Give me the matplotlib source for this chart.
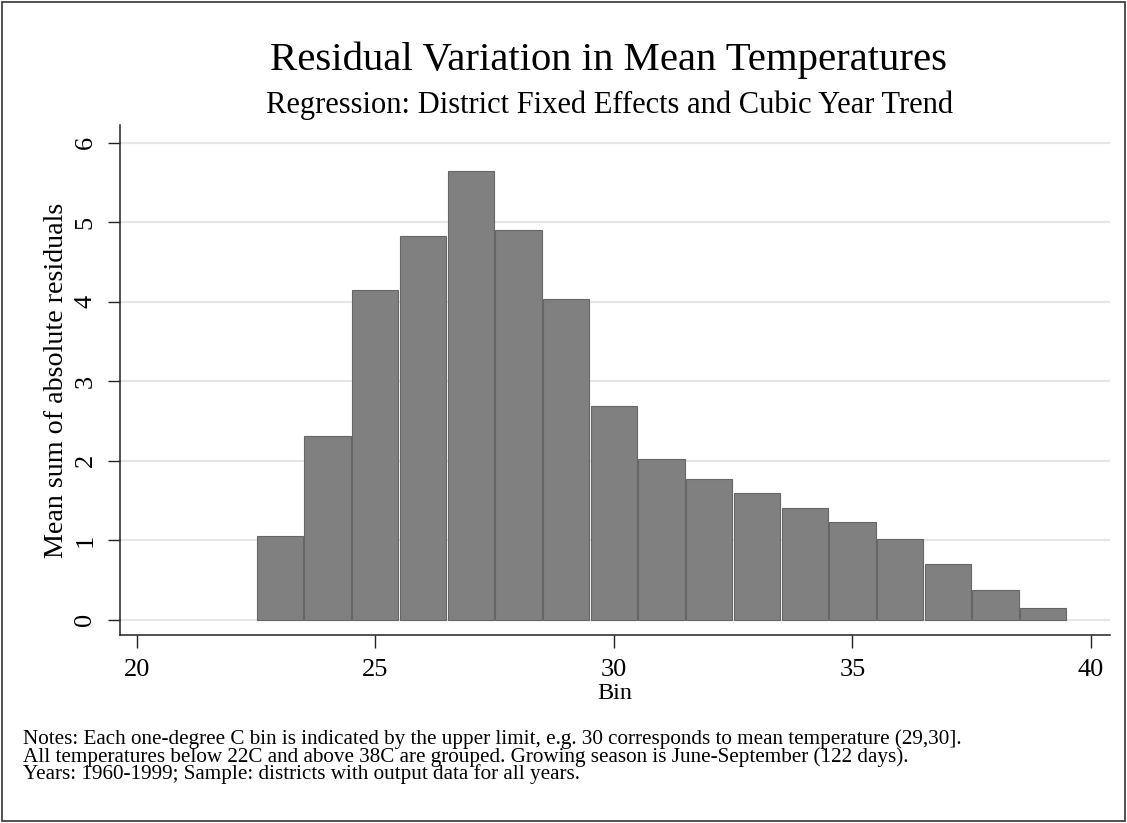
import matplotlib.pyplot as plt
import numpy as np
from matplotlib.patches import Rectangle

# bins (upper limit, deg C) and mean sum of absolute residuals
bins = [23, 24, 25, 26, 27, 28, 29, 30, 31, 32, 33, 34, 35, 36, 37, 38, 39]
values = [1.05, 2.31, 4.15, 4.83, 5.64, 4.90, 4.04, 2.69, 2.02, 1.77,
          1.59, 1.41, 1.23, 1.02, 0.70, 0.37, 0.15]

xticks = [20, 25, 30, 35, 40]
yticks = [0, 1, 2, 3, 4, 5, 6]

title = "Residual Variation in Mean Temperatures"
subtitle = "Regression: District Fixed Effects and Cubic Year Trend"
note_lines = [
    "Notes: Each one-degree C bin is indicated by the upper limit, e.g. 30 corresponds to mean temperature (29,30].",
    "All temperatures below 22C and above 38C are grouped. Growing season is June-September (122 days).",
    "Years: 1960-1999; Sample: districts with output data for all years.",
]

plt.rcParams['font.family'] = ['Liberation Serif', 'DejaVu Serif']

fig = plt.figure(figsize=(11.27, 8.23), dpi=100)
ax = fig.add_axes([0.1065, 0.2284, 0.8785, 0.6196])

ax.bar(bins, values, width=0.97, color='#808080', edgecolor='#666666',
       linewidth=0.8, zorder=3)

ax.set_xlim(19.65, 40.4)
ax.set_ylim(-0.19, 6.22)
ax.set_xticks(xticks)
ax.set_yticks(yticks)
ax.yaxis.grid(True, color='#e6e6e6', linewidth=1.6, zorder=0)
ax.set_axisbelow(True)

for s in ['top', 'right']:
    ax.spines[s].set_visible(False)
for s in ['left', 'bottom']:
    ax.spines[s].set_linewidth(1.1)
    ax.spines[s].set_color('#222222')

ax.tick_params(axis='both', direction='out', length=9, width=1.0,
               color='#222222', labelsize=19, pad=8)
for lab in ax.get_yticklabels():
    lab.set_rotation(90)
    lab.set_va('center')

ax.set_xlabel("Bin", fontsize=17.5, labelpad=2)
ax.set_ylabel("Mean sum of absolute residuals", fontsize=20.2, labelpad=4)

fig.text(0.54, 0.927, title, fontsize=29.3, ha='center', va='center')
fig.text(0.541, 0.872, subtitle, fontsize=22, ha='center', va='center')

# notes block, tight Stata line pitch
fig.text(0.02, 1 - 757 / 823, "\n".join(note_lines), fontsize=15.2,
         ha='left', va='center', linespacing=0.84)

fig.patches.append(Rectangle((0.002, 0.002), 0.996, 0.995,
                             transform=fig.transFigure, fill=False,
                             edgecolor='#333333', linewidth=1.2))

fig.savefig("out.png", dpi=100)
